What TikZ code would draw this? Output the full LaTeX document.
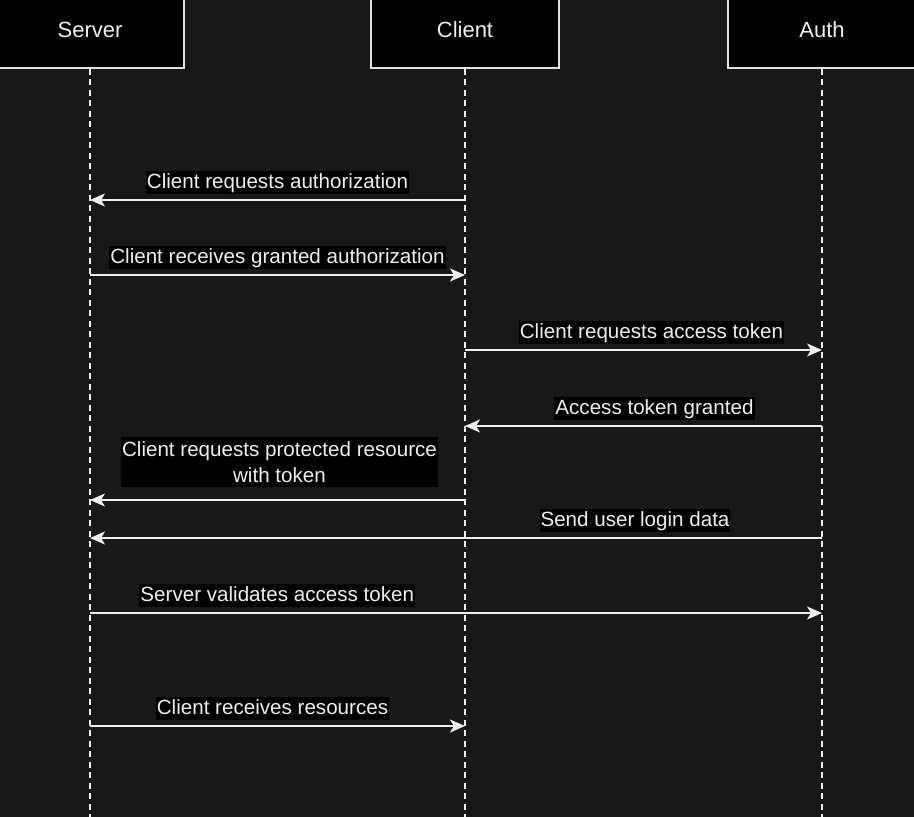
\documentclass[tikz,border=0pt]{standalone}
\usepackage{fontspec}
\setmainfont{Liberation Sans}
\usetikzlibrary{arrows.meta}
\definecolor{canvas}{HTML}{181818}
\definecolor{ink}{HTML}{EEEEEE}
\definecolor{rim}{HTML}{E2E2E2}
\tikzset{
  actor/.style={draw=rim, fill=black, line width=1.3pt, minimum width=188pt,
    minimum height=76pt, text=ink, font=\fontsize{22}{26}\selectfont},
  lifeline/.style={draw=ink, line width=1.3pt, dash pattern=on 6pt off 4.5pt},
  msg/.style={draw=ink, line width=1.6pt,
    -{Stealth[length=15pt,width=13pt,inset=4pt]}},
  lbl/.style={fill=black, text=ink, font=\fontsize{20.6}{26}\selectfont,
    inner xsep=1pt, inner ysep=1pt, text height=16pt, text depth=5pt},
  lbltwo/.style={fill=black, text=ink, font=\fontsize{20.6}{26}\selectfont,
    inner xsep=1pt, inner ysep=4.5pt, align=center},
}
\begin{document}
\begin{tikzpicture}[x=10pt,y=-10pt]
\fill[canvas] (0,0) rectangle (91.4,81.7);
\useasboundingbox (0,0) rectangle (91.4,81.7);
\clip (0,0) rectangle (91.4,81.7);
% participants
\node[actor] (server) at (9,3) {Server};
\node[actor] (client) at (46.5,3) {Client};
\node[actor] (auth) at (82.2,3) {Auth};
\coordinate (server-end) at (9,81.7);
\coordinate (client-end) at (46.5,81.7);
\coordinate (auth-end) at (82.2,81.7);
\draw[lifeline] (server.south) -- (server-end);
\draw[lifeline] (client.south) -- (client-end);
\draw[lifeline] (auth.south) -- (auth-end);
% messages
\draw[msg] (client |- 0,20) -- (server |- 0,20)
  node[midway, above=5pt, lbl] {Client requests authorization};
\draw[msg] (server |- 0,27.5) -- (client |- 0,27.5)
  node[midway, above=5pt, lbl] {Client receives granted authorization};
\draw[msg] (client |- 0,35) -- (auth |- 0,35)
  node[midway, above=5pt, xshift=8pt, lbl] {Client requests access token};
\draw[msg] (auth |- 0,42.6) -- (client |- 0,42.6)
  node[midway, above=5pt, xshift=11pt, lbl] {Access token granted};
\draw[msg] (client |- 0,50) -- (server |- 0,50)
  node[midway, above=12pt, xshift=2pt, lbltwo] {Client requests protected resource\\with token};
\draw[msg] (auth |- 0,53.8) -- (server |- 0,53.8)
  node[pos=0.25, above=5pt, xshift=-4pt, lbl] {Send user login data};
\draw[msg] (server |- 0,61.3) -- (auth |- 0,61.3)
  node[pos=0.26, above=5pt, xshift=-3pt, lbl] {Server validates access token};
\draw[msg] (server |- 0,72.6) -- (client |- 0,72.6)
  node[midway, above=5pt, xshift=-5pt, lbl] {Client receives resources};
\end{tikzpicture}
\end{document}
